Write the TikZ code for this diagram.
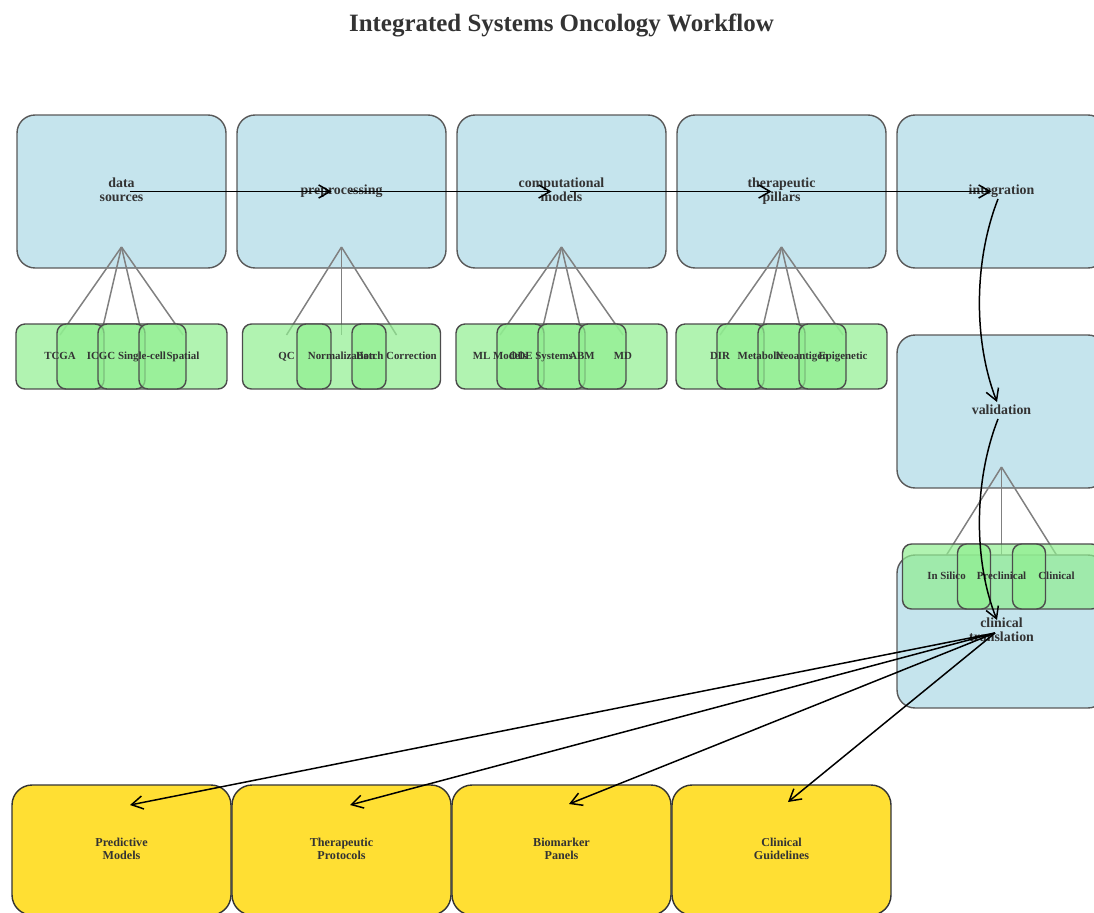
\documentclass[tikz,border=0pt]{standalone}
\usepackage{fontspec}
\setmainfont{Liberation Serif}
\usepackage{tikz}
\usetikzlibrary{calc,arrows.meta}
\definecolor{stageblue}{HTML}{ADD8E6}
\definecolor{subgreen}{HTML}{90EE90}
\definecolor{outgold}{HTML}{FFD700}
\definecolor{inkgray}{HTML}{333333}
\tikzset{% change default arrow tips
    >={Straight Barb[length=6.5pt,width=7.5pt]}
}
\tikzset{
    titletext/.style={text=inkgray, font=\fontsize{14.2}{16}\selectfont\bfseries},
    stagebox/.style={draw=black!65, line width=0.8pt, fill=stageblue, fill opacity=0.7,
        text opacity=1, text=inkgray, rounded corners=0.36cm, align=center,
        minimum width=4.18cm, minimum height=3.06cm, inner sep=0pt,
        execute at begin node={\vphantom{Ap}}, execute at end node={\vphantom{Ap}},
        font=\fontsize{7.9}{7.9}\selectfont\bfseries},
    groupbox/.style={draw=black!70, line width=0.8pt, fill=subgreen, fill opacity=0.7,
        rounded corners=0.18cm, minimum width=#1, minimum height=1.3cm, inner sep=0pt},
    itembox/.style={groupbox=#1},
    itemtext/.style={text=inkgray, inner sep=0pt, anchor=base,
        font=\fontsize{6.2}{6.2}\selectfont\bfseries},
    outbox/.style={draw=black!80, line width=0.8pt, fill=outgold, fill opacity=0.8,
        text opacity=1, text=inkgray, rounded corners=0.4cm, align=center,
        minimum width=4.38cm, minimum height=2.6cm, inner sep=0pt,
        execute at begin node={\vphantom{Ap}}, execute at end node={\vphantom{Ap}},
        font=\fontsize{6.9}{7.4}\selectfont\bfseries},
    hubline/.style={draw=black!50, line width=0.85pt},
    flow/.style={->, draw=black, line width=0.85pt}
}
\begin{document}
\begin{tikzpicture}[x=0.02cm,y=-0.02cm]
    \newcommand{\stagey}{191.5}
    \newcommand{\subdy}{165}
    \newcommand{\hubdy}{55.5}
    \newcommand{\linedy}{-21.5}
    \newcommand{\basedy}{3}
    \newcommand{\outy}{850}

    \clip (0,0) rectangle (1094,912);

    % title
    \node[titletext] (title) at (561.5,25.5) {Integrated Systems Oncology Workflow};

    % stages
    \node[stagebox] (ds) at (121.5,\stagey) {data\\sources};
    \node[stagebox] (pp) at (341.5,\stagey) {preprocessing};
    \node[stagebox] (cm) at (561.5,\stagey) {computational\\models};
    \node[stagebox] (tp) at (781.5,\stagey) {therapeutic\\pillars};
    \node[stagebox] (ig) at (1001.5,\stagey) {integration};
    \node[stagebox] (va) at (1001.5,411.5) {validation};
    \node[stagebox] (ct) at (1001.5,631.5) {clinical\\translation};

    % hubs and sub rows
    \coordinate (ds-hub) at ($(ds)+(0,\hubdy)$);
    \coordinate (pp-hub) at ($(pp)+(0,\hubdy)$);
    \coordinate (cm-hub) at ($(cm)+(0,\hubdy)$);
    \coordinate (tp-hub) at ($(tp)+(0,\hubdy)$);
    \coordinate (va-hub) at ($(va)+(0,\hubdy)$);
    \coordinate (ds-sub) at ($(ds)+(0,\subdy)$);
    \coordinate (pp-sub) at ($(pp)+(0,\subdy)$);
    \coordinate (cm-sub) at ($(cm)+(0,\subdy)$);
    \coordinate (tp-sub) at ($(tp)+(0,\subdy)$);
    \coordinate (va-sub) at ($(va)+(0,\subdy)$);

    % hub lines
    \draw[hubline] (ds-hub) -- ($(ds-sub)+(-61.5,\linedy)$);
    \draw[hubline] (ds-hub) -- ($(ds-sub)+(-20.5,\linedy)$);
    \draw[hubline] (ds-hub) -- ($(ds-sub)+(20.5,\linedy)$);
    \draw[hubline] (ds-hub) -- ($(ds-sub)+(61.5,\linedy)$);
    \draw[hubline] (pp-hub) -- ($(pp-sub)+(-55,\linedy)$);
    \draw[hubline] (pp-hub) -- ($(pp-sub)+(0,\linedy)$);
    \draw[hubline] (pp-hub) -- ($(pp-sub)+(55,\linedy)$);
    \draw[hubline] (cm-hub) -- ($(cm-sub)+(-61.5,\linedy)$);
    \draw[hubline] (cm-hub) -- ($(cm-sub)+(-20.5,\linedy)$);
    \draw[hubline] (cm-hub) -- ($(cm-sub)+(20.5,\linedy)$);
    \draw[hubline] (cm-hub) -- ($(cm-sub)+(61.5,\linedy)$);
    \draw[hubline] (tp-hub) -- ($(tp-sub)+(-61.5,\linedy)$);
    \draw[hubline] (tp-hub) -- ($(tp-sub)+(-20.5,\linedy)$);
    \draw[hubline] (tp-hub) -- ($(tp-sub)+(20.5,\linedy)$);
    \draw[hubline] (tp-hub) -- ($(tp-sub)+(61.5,\linedy)$);
    \draw[hubline] (va-hub) -- ($(va-sub)+(-55,\linedy)$);
    \draw[hubline] (va-hub) -- ($(va-sub)+(0,\linedy)$);
    \draw[hubline] (va-hub) -- ($(va-sub)+(55,\linedy)$);

    % sub boxes
    \node[groupbox=4.22cm] (ds-grp) at (ds-sub) {};
    \node[itembox=0.94cm] (ds-b1) at ($(ds-sub)+(-41,0)$) {};
    \node[itembox=0.94cm] (ds-b2) at (ds-sub) {};
    \node[itembox=0.94cm] (ds-b3) at ($(ds-sub)+(41,0)$) {};
    \node[groupbox=3.96cm] (pp-grp) at (pp-sub) {};
    \node[itembox=0.68cm] (pp-b1) at ($(pp-sub)+(-27.5,0)$) {};
    \node[itembox=0.68cm] (pp-b2) at ($(pp-sub)+(27.5,0)$) {};
    \node[groupbox=4.22cm] (cm-grp) at (cm-sub) {};
    \node[itembox=0.94cm] (cm-b1) at ($(cm-sub)+(-41,0)$) {};
    \node[itembox=0.94cm] (cm-b2) at (cm-sub) {};
    \node[itembox=0.94cm] (cm-b3) at ($(cm-sub)+(41,0)$) {};
    \node[groupbox=4.22cm] (tp-grp) at (tp-sub) {};
    \node[itembox=0.94cm] (tp-b1) at ($(tp-sub)+(-41,0)$) {};
    \node[itembox=0.94cm] (tp-b2) at (tp-sub) {};
    \node[itembox=0.94cm] (tp-b3) at ($(tp-sub)+(41,0)$) {};
    \node[groupbox=3.96cm] (va-grp) at (va-sub) {};
    \node[itembox=0.66cm] (va-b1) at ($(va-sub)+(-27.5,0)$) {};
    \node[itembox=0.66cm] (va-b2) at ($(va-sub)+(27.5,0)$) {};

    % sub labels
    \node[itemtext] (tcga) at ($(ds-sub)+(-61.5,\basedy)$) {TCGA};
    \node[itemtext] (icgc) at ($(ds-sub)+(-20.5,\basedy)$) {ICGC};
    \node[itemtext] (scell) at ($(ds-sub)+(20.5,\basedy)$) {Single-cell};
    \node[itemtext] (spatial) at ($(ds-sub)+(61.5,\basedy)$) {Spatial};
    \node[itemtext] (qc) at ($(pp-sub)+(-55,\basedy)$) {QC};
    \node[itemtext] (norm) at ($(pp-sub)+(0,\basedy)$) {Normalization};
    \node[itemtext] (batch) at ($(pp-sub)+(55,\basedy)$) {Batch Correction};
    \node[itemtext] (ml) at ($(cm-sub)+(-61.5,\basedy)$) {ML Models};
    \node[itemtext] (ode) at ($(cm-sub)+(-20.5,\basedy)$) {ODE Systems};
    \node[itemtext] (abm) at ($(cm-sub)+(20.5,\basedy)$) {ABM};
    \node[itemtext] (md) at ($(cm-sub)+(61.5,\basedy)$) {MD};
    \node[itemtext] (dir) at ($(tp-sub)+(-61.5,\basedy)$) {DIR};
    \node[itemtext] (metab) at ($(tp-sub)+(-20.5,\basedy)$) {Metabolic};
    \node[itemtext] (neo) at ($(tp-sub)+(20.5,\basedy)$) {Neoantigen};
    \node[itemtext] (epi) at ($(tp-sub)+(61.5,\basedy)$) {Epigenetic};
    \node[itemtext] (silico) at ($(va-sub)+(-55,\basedy)$) {In Silico};
    \node[itemtext] (precl) at ($(va-sub)+(0,\basedy)$) {Preclinical};
    \node[itemtext] (clin) at ($(va-sub)+(55,\basedy)$) {Clinical};

    % outputs
    \node[outbox] (pm) at (121.5,\outy) {Predictive\\Models};
    \node[outbox] (tpr) at (341.5,\outy) {Therapeutic\\Protocols};
    \node[outbox] (bp) at (561.5,\outy) {Biomarker\\Panels};
    \node[outbox] (cg) at (781.5,\outy) {Clinical\\Guidelines};

    % flow
    \draw[flow] ($(ds)+(8,0)$) -- ($(pp)+(-10,0)$);
    \draw[flow] ($(pp)+(8,0)$) -- ($(cm)+(-10,0)$);
    \draw[flow] ($(cm)+(8,0)$) -- ($(tp)+(-10,0)$);
    \draw[flow] ($(tp)+(8,0)$) -- ($(ig)+(-10,0)$);
    \draw[flow] ($(ig)+(-3.5,7.5)$) .. controls ($(ig)+(-28,70)$) and ($(va)+(-28,-70)$) .. ($(va)+(-4.5,-9.5)$);
    \draw[flow] ($(va)+(-3.5,7.5)$) .. controls ($(va)+(-28,70)$) and ($(ct)+(-28,-70)$) .. ($(ct)+(-4.5,-11.5)$);
    \draw[flow] ($(ct)+(-6.5,1.5)$) -- ($(pm)+(8.5,-45)$);
    \draw[flow] ($(ct)+(-6.5,1.5)$) -- ($(tpr)+(8.5,-45)$);
    \draw[flow] ($(ct)+(-6.5,1.5)$) -- ($(bp)+(7.5,-46)$);
    \draw[flow] ($(ct)+(-6.5,1.5)$) -- ($(cg)+(6.5,-48)$);
\end{tikzpicture}
\end{document}
